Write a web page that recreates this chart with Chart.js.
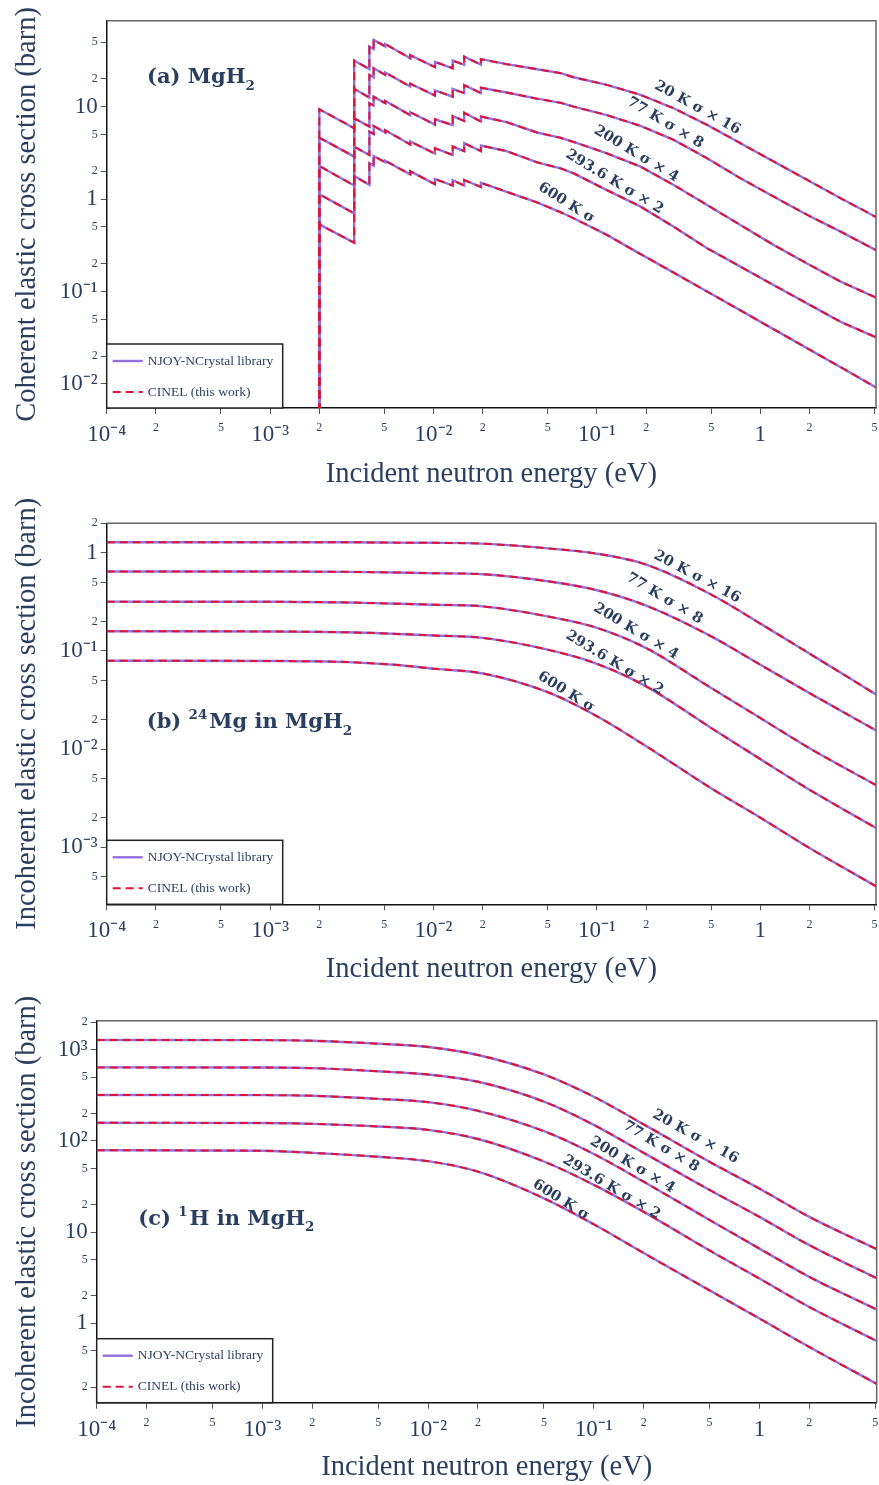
<!DOCTYPE html>
<html>
<head>
<meta charset="utf-8">
<script src="https://cdn.jsdelivr.net/npm/chart.js@4.4.0/dist/chart.umd.min.js"></script>
<style>
  html, body { margin: 0; padding: 0; background: #fff; }
  #wrap { position: relative; width: 879px; height: 1485px; }
  .panel { position: absolute; left: 0; width: 879px; height: 495px; }
</style>
</head>
<body>
<div id="wrap">
  <div class="panel" style="top:0"><canvas id="chart-a"></canvas></div>
  <div class="panel" style="top:495px"><canvas id="chart-b"></canvas></div>
  <div class="panel" style="top:990px"><canvas id="chart-c"></canvas></div>
</div>
<script>
// ── Data ──────────────────────────────────────────────────────────────────────

const TEMP_LABELS = ['20 K σ × 16', '77 K σ × 8', '200 K σ × 4', '293.6 K σ × 2', '600 K σ'];

const X_TICKS       = [1e-4, 2e-4, 5e-4, 1e-3, 2e-3, 5e-3, 1e-2, 2e-2, 5e-2, 0.1, 0.2, 0.5, 1, 2, 5];
const X_TICK_LABELS = ['10⁻⁴', '2', '5', '10⁻³', '2', '5', '10⁻²', '2', '5', '10⁻¹', '2', '5', '1', '2', '5'];

// (a) coherent elastic, MgH2 (Bragg edges)
const E_COH = [0.002, 0.002, 0.00327, 0.00327, 0.00405, 0.00405, 0.0043, 0.0043, 0.00506, 0.00506,
               0.0072, 0.0072, 0.0102, 0.0102, 0.0131, 0.0131, 0.0154, 0.0154, 0.0195, 0.0195,
               0.028, 0.043, 0.06, 0.072, 0.115, 0.185, 0.295, 0.472, 0.755, 1.21, 1.94, 3.1, 5.1];
const COH_20K  = [0.001, 9.37, 5.84, 31.5, 25.4, 44.6, 42.0, 52.7, 44.8, 47.5, 33.4, 36.0, 26.7, 30.5, 26.0, 31.5,
                  28.3, 34.8, 28.5, 32.6, 28.8, 25.4, 23.0, 20.8, 17.2, 13.4, 9.6, 6.34, 4.02, 2.54, 1.61, 1.02, 0.64];
const COH_77K  = [0.001, 4.62, 2.88, 15.6, 12.5, 22.0, 20.7, 26.0, 22.1, 23.4, 16.5, 17.7, 13.2, 15.0, 12.8, 15.5,
                  14.0, 17.1, 14.0, 16.0, 14.2, 12.2, 11.0, 10.0, 8.1, 6.18, 4.37, 2.76, 1.68, 1.06, 0.673, 0.444, 0.28];
const COH_200K = [0.001, 2.28, 1.40, 7.48, 6.08, 10.9, 10.3, 12.8, 10.9, 11.5, 8.1, 8.7, 6.4, 7.3, 6.3, 7.9,
                  7.0, 8.6, 6.9, 7.8, 6.8, 5.25, 4.6, 4.15, 3.13, 2.24, 1.42, 0.863, 0.524, 0.318, 0.2, 0.128, 0.086];
const COH_293K = [0.001, 1.13, 0.70, 3.69, 3.0, 5.36, 5.05, 6.18, 5.25, 5.55, 3.9, 4.2, 3.1, 3.55, 3.0, 3.7,
                  3.3, 4.02, 3.3, 3.8, 3.3, 2.5, 2.15, 1.9, 1.25, 0.828, 0.502, 0.294, 0.186, 0.117, 0.074, 0.047, 0.032];
const COH_600K = [0.001, 0.533, 0.337, 1.78, 1.42, 2.44, 2.3, 2.93, 2.5, 2.6, 1.85, 2.0, 1.45, 1.65, 1.4, 1.6,
                  1.4, 1.61, 1.35, 1.5, 1.2, 0.92, 0.72, 0.62, 0.41, 0.254, 0.16, 0.10, 0.0625, 0.039, 0.0243, 0.0152, 0.0092];
const Y_TICKS_A       = [0.01, 0.02, 0.05, 0.1, 0.2, 0.5, 1, 2, 5, 10, 20, 50];
const Y_TICK_LABELS_A = ['10⁻²', '2', '5', '10⁻¹', '2', '5', '1', '2', '5', '10', '2', '5'];

// (b) incoherent elastic, 24Mg in MgH2
const E_MG    = [1e-4, 1e-3, 3e-3, 6e-3, 0.01, 0.02, 0.05, 0.1, 0.2, 0.5, 1, 2, 5.1];
const MG_20K  = [1.28, 1.28, 1.28, 1.27, 1.265, 1.24, 1.11, 0.98, 0.76, 0.376, 0.19, 0.094, 0.036];
const MG_77K  = [0.645, 0.645, 0.64, 0.63, 0.62, 0.605, 0.513, 0.416, 0.29, 0.141, 0.0724, 0.0372, 0.0155];
const MG_200K = [0.318, 0.317, 0.312, 0.303, 0.296, 0.285, 0.225, 0.172, 0.107, 0.042, 0.0207, 0.0102, 0.0043];
const MG_293K = [0.159, 0.158, 0.155, 0.149, 0.144, 0.136, 0.103, 0.074, 0.0436, 0.0164, 0.0079, 0.00385, 0.00157];
const MG_600K = [0.0796, 0.079, 0.077, 0.072, 0.066, 0.059, 0.038, 0.0216, 0.0107, 0.00398, 0.002, 0.00098, 0.0004];
const Y_TICKS_B       = [5e-4, 1e-3, 2e-3, 5e-3, 0.01, 0.02, 0.05, 0.1, 0.2, 0.5, 1, 2];
const Y_TICK_LABELS_B = ['5', '10⁻³', '2', '5', '10⁻²', '2', '5', '10⁻¹', '2', '5', '1', '2'];

// (c) incoherent elastic, 1H in MgH2
const E_H    = [1e-4, 1e-3, 2e-3, 5e-3, 0.01, 0.02, 0.05, 0.1, 0.2, 0.5, 1, 2, 5.1];
const H_20K  = [1280, 1275, 1255, 1165, 1070, 875, 535, 305, 152, 59, 30, 14.7, 6.5];
const H_77K  = [640, 638, 628, 580, 535, 445, 270, 150, 74, 29, 14.7, 7.2, 3.12];
const H_200K = [319, 318, 313, 289, 266, 214, 128, 72, 35.7, 13.6, 6.6, 3.23, 1.42];
const H_293K = [158, 157, 154, 144, 132, 105, 59.5, 33, 16.7, 6.3, 3.1, 1.51, 0.64];
const H_600K = [79, 78, 74, 67, 60, 46, 23.5, 12.2, 5.9, 2.3, 1.13, 0.55, 0.217];
const Y_TICKS_C       = [0.2, 0.5, 1, 2, 5, 10, 20, 50, 100, 200, 500, 1000, 2000];
const Y_TICK_LABELS_C = ['2', '5', '1', '2', '5', '10', '2', '5', '10²', '2', '5', '10³', '2'];

// ── Styling ───────────────────────────────────────────────────────────────────

const W = 879, H = 495;
const INK = '#2a3f5f';
const SERIF = '"Liberation Serif", "Times New Roman", serif';
const BOLD_SERIF = '"DejaVu Serif", serif';
const NJOY_COLOR = '#9370DB';
const CINEL_COLOR = '#DC143C';

const PANELS = [
  {
    id: 'chart-a', energies: E_COH, series: [COH_20K, COH_77K, COH_200K, COH_293K, COH_600K],
    smooth: false, yMin: 0.0055, yMax: 85, yTicks: Y_TICKS_A, yLabels: Y_TICK_LABELS_A,
    yTitle: 'Coherent elastic cross section (barn)',
    area: { left: 106.7, top: 20.7, right: 876, bottom: 408 }, xTitlePad: 2.9,
    title: [['(a) MgH', 0], ['2', -1]], titleAt: [147, 83.3],
    labels: [[0.412, 9.68, 29], [0.262, 6.67, 31], [0.174, 3.08, 31], [0.128, 1.53, 31], [0.065, 0.908, 32]],
  },
  {
    id: 'chart-b', energies: E_MG, series: [MG_20K, MG_77K, MG_200K, MG_293K, MG_600K],
    smooth: true, yMin: 2.62e-4, yMax: 2, yTicks: Y_TICKS_B, yLabels: Y_TICK_LABELS_B,
    yTitle: 'Incoherent elastic cross section (barn)',
    area: { left: 106.7, top: 28.3, right: 876, bottom: 409.3 }, xTitlePad: 2.9,
    title: [['(b) ', 0], ['24', 1], ['Mg in MgH', 0], ['2', -1]], titleAt: [146.7, 233.3],
    labels: [[0.41, 0.569, 28], [0.259, 0.342, 31], [0.173, 0.158, 31], [0.128, 0.0755, 31], [0.0647, 0.0382, 32]],
  },
  {
    id: 'chart-c', energies: E_H, series: [H_20K, H_77K, H_200K, H_293K, H_600K],
    smooth: true, yMin: 0.135, yMax: 2080, yTicks: Y_TICKS_C, yLabels: Y_TICK_LABELS_C,
    yTitle: 'Incoherent elastic cross section (barn)',
    area: { left: 96.7, top: 30.7, right: 876.7, bottom: 412.7 }, xTitlePad: 0,
    title: [['(c) ', 0], ['1', 1], ['H in MgH', 0], ['2', -1]], titleAt: [138.3, 235],
    labels: [[0.411, 111, 29], [0.255, 86.5, 31], [0.171, 54.5, 31], [0.128, 31, 31], [0.0633, 22.5, 32]],
  },
];

function isDecade(v) {
  const l = Math.log10(v);
  return Math.abs(l - Math.round(l)) < 1e-6;
}

function tickFont(ctx) {
  const big = ctx.tick && isDecade(ctx.tick.value);
  return { family: SERIF, size: big ? 23 : 12 };
}

function axisCommon(ticks, labels) {
  return {
    type: 'logarithmic',
    afterBuildTicks: s => { s.ticks = ticks.map(v => ({ value: v, major: isDecade(v) })); },
    ticks: {
      autoSkip: false, maxRotation: 0, minRotation: 0, color: INK,
      font: tickFont,
      callback: (v, i) => labels[i],
    },
    grid: { drawOnChartArea: false, drawTicks: true, tickLength: 6, color: '#555', lineWidth: 1 },
    border: { display: true, color: '#111', width: 1.5 },
  };
}

// ── Overlay: frame, legend, panel title, curve labels ─────────────────────────

function drawRich(ctx, x, y, segs, size) {
  segs.forEach(([t, pos]) => {
    const s = pos ? size * 0.64 : size;
    ctx.font = `bold ${s}px ${BOLD_SERIF}`;
    const dy = pos < 0 ? size * 0.3 : pos > 0 ? -size * 0.45 : 0;
    ctx.fillText(t, x, y + dy);
    x += ctx.measureText(t).width + (pos > 0 ? 2 : 0);
  });
}

function drawOverlay(chart, p) {
  const { ctx, chartArea: a, scales } = chart;
  ctx.save();

  // top & right frame
  ctx.strokeStyle = '#666';
  ctx.lineWidth = 1.5;
  ctx.beginPath();
  ctx.moveTo(a.left, a.top);
  ctx.lineTo(a.right, a.top);
  ctx.lineTo(a.right, a.bottom);
  ctx.stroke();

  // legend box (bottom-left corner)
  const lx = a.left, ly = a.bottom - 64;
  ctx.fillStyle = '#fff';
  ctx.fillRect(lx, ly, 176, 64);
  ctx.strokeStyle = '#222';
  ctx.lineWidth = 1.5;
  ctx.strokeRect(lx, ly, 176, 64);
  const ds = chart.data.datasets;
  [[ds[0], a.bottom - 47], [ds[1], a.bottom - 16]].forEach(([d, y]) => {
    ctx.strokeStyle = d.borderColor;
    ctx.lineWidth = d.borderWidth;
    ctx.setLineDash(d.borderDash || []);
    ctx.beginPath();
    ctx.moveTo(lx + 6, y);
    ctx.lineTo(lx + 36, y);
    ctx.stroke();
    ctx.setLineDash([]);
    ctx.fillStyle = INK;
    ctx.font = `13.5px ${SERIF}`;
    ctx.textAlign = 'left';
    ctx.textBaseline = 'middle';
    ctx.fillText(d.label, lx + 41, y);
  });

  // panel title
  ctx.fillStyle = INK;
  ctx.textAlign = 'left';
  ctx.textBaseline = 'alphabetic';
  drawRich(ctx, p.titleAt[0], p.titleAt[1], p.title, 21);

  // curve labels
  ctx.font = `bold 14.5px ${BOLD_SERIF}`;
  ctx.textAlign = 'center';
  ctx.textBaseline = 'middle';
  p.labels.forEach(([e, s, ang], i) => {
    const x = scales.x.getPixelForValue(e);
    const y = scales.y.getPixelForValue(s);
    ctx.save();
    ctx.translate(x, y);
    ctx.rotate(ang * Math.PI / 180);
    ctx.fillText(TEMP_LABELS[i], 0, 0);
    ctx.restore();
  });

  ctx.restore();
}

// ── Build charts ──────────────────────────────────────────────────────────────

function makePanel(p) {
  const curve = p.smooth ? { cubicInterpolationMode: 'monotone' } : { tension: 0 };
  const datasets = [];
  p.series.forEach(ys => {
    const pts = p.energies.map((e, j) => ({ x: e, y: ys[j] }));
    datasets.push({
      label: 'NJOY-NCrystal library', data: pts,
      borderColor: NJOY_COLOR, borderWidth: 2.4, pointRadius: 0, order: 2, ...curve,
    });
    datasets.push({
      label: 'CINEL (this work)', data: pts.map(q => ({ ...q })),
      borderColor: CINEL_COLOR, borderWidth: 2, borderDash: [8, 5], pointRadius: 0, order: 1, ...curve,
    });
  });

  const xAxis = axisCommon(X_TICKS, X_TICK_LABELS);
  Object.assign(xAxis, {
    min: 1e-4, max: 5.1,
    afterFit: s => { s.height = H - p.area.bottom; s.paddingLeft = 0; s.paddingRight = 0; },
    title: {
      display: true, text: 'Incident neutron energy (eV)', color: INK,
      font: { family: SERIF, size: 28.5 }, padding: { top: 0, bottom: p.xTitlePad },
    },
  });
  xAxis.ticks.padding = 7;

  const yAxis = axisCommon(p.yTicks, p.yLabels);
  Object.assign(yAxis, {
    min: p.yMin, max: p.yMax,
    afterFit: s => { s.width = p.area.left; s.paddingTop = 0; s.paddingBottom = 0; },
    title: {
      display: true, text: p.yTitle, color: INK,
      font: { family: SERIF, size: 28.5 }, padding: { top: 10.9, bottom: 0 },
    },
  });
  yAxis.ticks.padding = 3;

  new Chart(document.getElementById(p.id), {
    type: 'line',
    data: { datasets },
    options: {
      responsive: true,
      maintainAspectRatio: false,
      devicePixelRatio: 1,
      animation: false,
      events: [],
      parsing: { xAxisKey: 'x', yAxisKey: 'y' },
      layout: { padding: { top: p.area.top, right: W - p.area.right, left: 0, bottom: 0 } },
      plugins: { legend: { display: false }, tooltip: { enabled: false } },
      scales: { x: xAxis, y: yAxis },
    },
    plugins: [{ id: 'overlay', afterDraw: chart => drawOverlay(chart, p) }],
  });
}

PANELS.forEach(makePanel);
</script>
</body>
</html>
